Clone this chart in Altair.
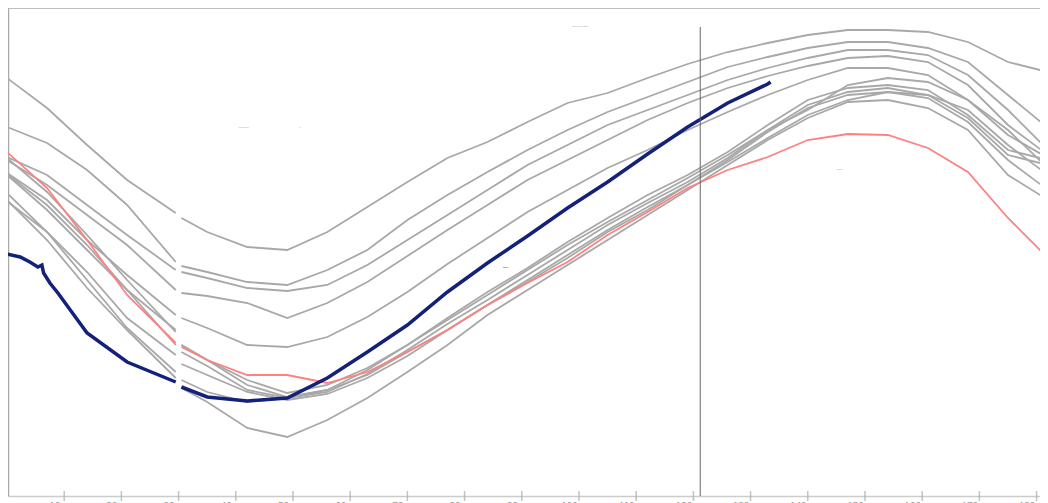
import altair as alt
import pandas as pd

# sample days (x) shared by the lines
days = [0, 7, 14, 21, 29.5, 30.5, 35, 42, 49, 56, 63, 70, 77, 84, 91, 98, 105, 112,
        119, 126, 133, 140, 147, 154, 161, 168, 175, 182]
GAP = 30  # missing day -> break in every line


def v(py):
    return [round((496 - p) / 10, 1) for p in py]


gray_series = {
    "1979": v([78,108,145,180,213,218,232,247,250,232,207,182,158,142,122,103,93,78,64,52,43,35,30,30,32,42,62,72]),
    "1980": v([127,143,170,205,262,266,272,282,285,270,250,220,195,172,150,130,112,97,82,67,57,48,42,42,48,62,95,128]),
    "1981": v([157,175,205,235,270,272,278,288,291,285,265,240,215,190,165,145,125,110,95,80,68,58,50,50,55,75,110,150]),
    "1982": v([160,185,215,245,290,293,296,303,318,303,282,256,230,205,180,160,140,120,103,88,76,66,58,56,62,85,125,155]),
    "1983": v([173,200,240,275,315,318,328,345,347,337,317,292,264,238,212,190,168,150,130,112,95,80,68,68,75,100,135,158]),
    "1984": v([175,210,250,290,330,345,360,380,393,385,368,345,320,295,270,245,222,200,178,155,130,110,85,78,82,100,130,168]),
    "1985": v([193,232,280,328,372,380,392,402,398,390,375,352,330,305,282,258,232,210,185,162,138,115,100,92,95,110,145,175]),
    "1986": v([200,240,288,330,378,388,402,428,437,420,398,372,345,315,290,265,240,215,190,165,140,118,102,100,108,130,175,200]),
    "1987": v([158,192,235,280,332,345,360,385,397,390,370,345,318,292,268,242,218,195,175,152,125,100,88,85,90,115,150,160]),
    "1988": v([174,205,245,290,345,352,366,390,398,392,374,350,324,300,275,250,225,203,182,158,130,105,92,88,95,118,155,165]),
    "1989": v([201,232,272,318,355,364,375,392,400,394,378,356,330,305,280,255,230,207,185,160,132,108,95,92,98,122,160,190]),
}
red_values = v([152,188,240,295,343,347,360,375,375,383,372,352,330,305,283,262,235,212,188,170,157,140,134,135,148,172,218,258])
blue_days = [0, 2.3, 4, 5.4, 6.1, 6.4, 7.5, 8.9] + days[2:21] + [133.5]
blue_values = v([254,257,262,267,265,273,283,293,
                 333,362,382,387,397,401,398,378,352,325,292,263,236,208,182,154,127,103,84,82])

rule_day = 121.2
rule_top = 46.9

label_texts = ["Sea ice extent", "minimum", "yr", "2024", "2012"]
label_days = [100.2, 41.4, 51.2, 87.2, 145.6]
label_vals = [47.0, 36.9, 36.9, 22.9, 32.7]
label_colors = ["#999999", "#aaaaaa", "#aaaaaa", "#1a2a80", "#ff8080"]

tick_days = list(range(0, 190, 10))

rows = []
for name, vals in gray_series.items():
    for d, y in zip(days, vals):
        rows.append({"series": name, "day": d, "value": y, "seg": 0 if d < GAP else 1})
gray_df = pd.DataFrame(rows)
red_df = pd.DataFrame({"day": days, "value": red_values, "seg": [0 if d < GAP else 1 for d in days]})
blue_df = pd.DataFrame({"day": blue_days, "value": blue_values, "seg": [0 if d < GAP else 1 for d in blue_days]})
lab_df = pd.DataFrame({"t": label_texts, "day": label_days, "value": label_vals, "c": label_colors})
tick_df = pd.DataFrame({"day": tick_days})

X0, X1 = 0.175, 180.6
Y0, Y1 = 0, 48.8
xs = alt.Scale(domain=[X0, X1], nice=False, zero=False)
ys = alt.Scale(domain=[Y0, Y1], nice=False, zero=False)
xaxis = alt.Axis(values=tick_days, title=None, grid=False, ticks=False,
                 domainColor="#cccccc", domainWidth=1.5,
                 labelColor="#999999", labelFontSize=10, labelPadding=5,
                 labelOffset=-10)
yaxis = alt.Axis(title=None, grid=False, ticks=False, labels=False,
                 domainColor="#aaaaaa", domainWidth=1.5)

gray = alt.Chart(gray_df).mark_line(color="#a8a8a8", strokeWidth=1.8).encode(
    x=alt.X("day:Q", scale=xs, axis=xaxis),
    y=alt.Y("value:Q", scale=ys, axis=yaxis),
    detail=["series:N", "seg:N"],
)
red = alt.Chart(red_df).mark_line(color="#ff8080", strokeWidth=1.8).encode(
    x=alt.X("day:Q", scale=xs), y=alt.Y("value:Q", scale=ys), detail="seg:N")
blue = alt.Chart(blue_df).mark_line(color="#13217a", strokeWidth=3.5).encode(
    x=alt.X("day:Q", scale=xs), y=alt.Y("value:Q", scale=ys), detail="seg:N")
rule = alt.Chart(pd.DataFrame({"day": [rule_day], "top": [rule_top]})).mark_rule(
    color="#666666", strokeWidth=1).encode(
    x=alt.X("day:Q", scale=xs), y=alt.Y("top:Q", scale=ys), y2=alt.datum(0))
ticks = alt.Chart(tick_df).mark_tick(color="#aaaaaa", size=10, thickness=1.5,
                                     orient="vertical").encode(
    x=alt.X("day:Q", scale=xs), y=alt.datum(0))
frame_top = alt.Chart(pd.DataFrame({"a": [X0], "b": [X1], "y": [Y1]})).mark_rule(
    color="#aaaaaa", strokeWidth=1.5).encode(
    x=alt.X("a:Q", scale=xs), x2="b:Q", y=alt.Y("y:Q", scale=ys))
labels = alt.Chart(lab_df).mark_text(fontSize=2.5).encode(
    x=alt.X("day:Q", scale=xs), y=alt.Y("value:Q", scale=ys),
    text="t:N", color=alt.Color("c:N", scale=None))

chart = alt.layer(frame_top, gray, red, blue, rule, ticks, labels).properties(
    width=1032, height=488,
    autosize=alt.AutoSizeParams(type="none"),
    padding={"left": 0, "top": 0, "right": 0, "bottom": 25},
).configure_view(stroke="transparent", strokeWidth=0)

chart.save("out.html", embed_options={"renderer": "svg", "actions": False})
